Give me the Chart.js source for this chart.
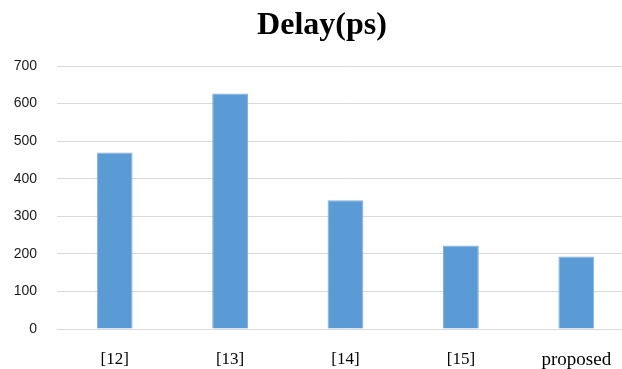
<!DOCTYPE html>
<html>
<head>
<meta charset="utf-8">
<script src="https://cdn.jsdelivr.net/npm/chart.js@4/dist/chart.umd.min.js"></script>
<style>
  html, body { margin: 0; padding: 0; background: #ffffff; overflow: hidden; }
  #wrap { width: 634px; height: 369px; }
</style>
</head>
<body>
<div id="wrap"><canvas id="c" width="634" height="369"></canvas></div>
<script>
// Delay comparison, in picoseconds
const chartTitle = 'Delay(ps)';
const categories = ['[12]', '[13]', '[14]', '[15]', 'proposed'];
const delayPs = [470, 627, 343, 222, 193];
const yTicks = [0, 100, 200, 300, 400, 500, 600, 700];

// Heading drawn above the plot
const headingPlugin = {
  id: 'heading',
  afterDraw(chart) {
    const ctx = chart.ctx;
    ctx.save();
    ctx.font = 'bold 32px "Liberation Serif", "Times New Roman", serif';
    ctx.fillStyle = '#000000';
    ctx.textAlign = 'center';
    ctx.textBaseline = 'alphabetic';
    ctx.fillText(chartTitle, 322, 34);
    ctx.restore();
  }
};

const serif = '"Liberation Serif", "Times New Roman", serif';

new Chart(document.getElementById('c'), {
  type: 'bar',
  data: {
    labels: categories,
    datasets: [{
      data: delayPs,
      backgroundColor: '#5B9BD5',
      borderColor: '#7FB0DE',
      borderWidth: 1,
      categoryPercentage: 0.31,
      barPercentage: 1
    }]
  },
  options: {
    responsive: false,
    animation: false,
    layout: { padding: { top: 66, left: 0, right: 0, bottom: 0 } },
    plugins: {
      legend: { display: false },
      title: { display: false },
      tooltip: { enabled: false }
    },
    scales: {
      x: {
        grid: { display: false },
        border: { display: false },
        ticks: {
          color: '#000000',
          padding: 12,
          font: (c) => (categories[c.index] === 'proposed')
            ? { family: serif, size: 19 }
            : { family: serif, size: 17 }
        },
        afterFit(scale) { scale.height = 40; }
      },
      y: {
        min: 0,
        max: 700,
        afterBuildTicks(scale) { scale.ticks = yTicks.map(v => ({ value: v })); },
        grid: { color: '#D9D9D9', lineWidth: 1, drawTicks: false },
        border: { display: false },
        ticks: {
          color: '#1a1a1a',
          padding: 20,
          font: { family: '"Liberation Sans", Arial, sans-serif', size: 14 }
        },
        afterFit(scale) { scale.width = 57; }
      }
    }
  },
  plugins: [headingPlugin]
});
</script>
</body>
</html>
